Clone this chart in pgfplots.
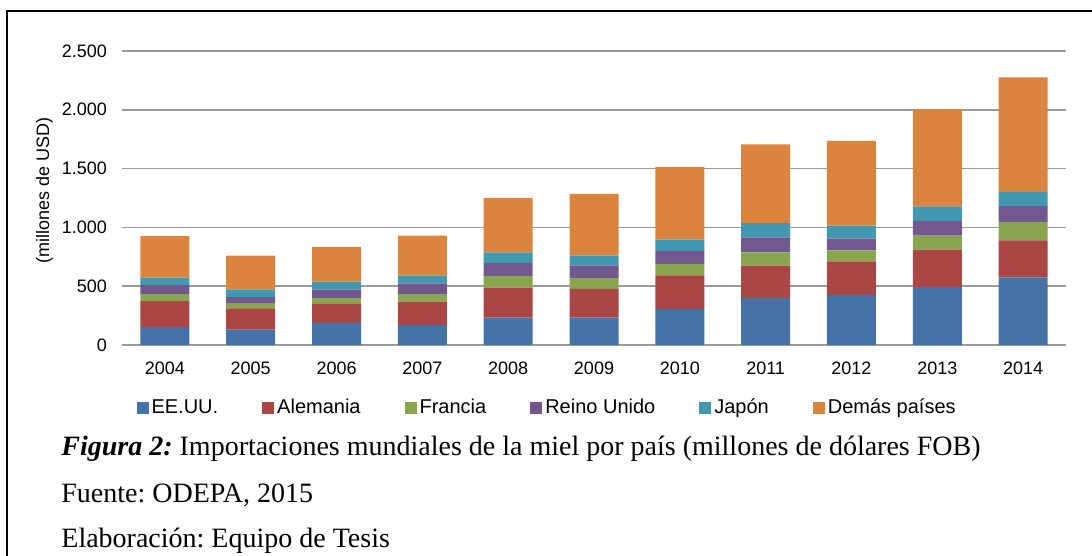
\documentclass[border=0pt]{standalone}
\usepackage{fontspec}
\setmainfont{Liberation Serif}
\newfontfamily\arial{Liberation Sans}
\usepackage{pgfplots}
\usepackage{pgfplotstable}
\pgfplotsset{compat=1.18}
\frenchspacing

\definecolor{cUS}{HTML}{4572A7}
\definecolor{cDE}{HTML}{AA4643}
\definecolor{cFR}{HTML}{89A54E}
\definecolor{cUK}{HTML}{71588F}
\definecolor{cJP}{HTML}{4198AF}
\definecolor{cRest}{HTML}{DB843D}

% importaciones por pais, millones USD (2004 = 0)
\pgfplotstableread{
x  us  de  fr  uk  jp  rest
0  151 221 61  76  64  352
1  131 180 44  52  67  286
2  189 160 49  73  67  297
3  172 197 64  90  67  340
4  233 255 99  111 90  462
5  233 245 91  108 83  526
6  304 288 96  112 96  618
7  398 276 114 128 120 671
8  427 284 94  100 111 719
9  492 319 119 123 125 828
10 575 315 157 134 122 973
}\datos

\begin{document}
\begin{tikzpicture}
\useasboundingbox (0pt,0pt) rectangle (546pt,278pt);
\draw[line width=1.3pt] (3.5pt,0pt) -- (3.5pt,272.5pt) -- (546pt,272.5pt);

\begin{axis}[
    at={(61pt,105.5pt)}, anchor=south west,
    scale only axis,
    width=472pt, height=147pt,
    ybar stacked,
    bar width=24.5pt,
    xmin=-0.5, xmax=10.5,
    ymin=0, ymax=2500,
    enlargelimits=false,
    xtick={0,...,10},
    xticklabels={2004,2005,2006,2007,2008,2009,2010,2011,2012,2013,2014},
    ytick={0,500,1000,1500,2000,2500},
    yticklabels={0,500,1.000,1.500,2.000,2.500},
    major tick length=0pt,
    axis line style={draw=none},
    ymajorgrids=true,
    grid style={draw=black!40, line width=0.8pt},
    tick label style={font=\arial\fontsize{9}{10}\selectfont},
    xticklabel style={yshift=-5pt},
    yticklabel style={xshift=-4pt},
    ylabel={(millones de USD)},
    ylabel style={at={(axis description cs:-0.082,0.527)}, anchor=center,
                  font=\arial\fontsize{9}{10}\selectfont},
    legend columns=-1,
    legend image code/.code={\fill[#1] (0pt,-3pt) rectangle (6pt,3pt);},
    legend style={at={(axis description cs:0.015,-0.214)}, anchor=west,
                  draw=none, fill=none, inner sep=0pt,
                  font=\arial\fontsize{10}{12}\selectfont,
                  nodes={inner sep=0pt},
                  /tikz/every odd column/.append style={column sep=1.5pt},
                  /tikz/every even column/.append style={column sep=22pt}},
]
\addplot[fill=cUS, draw=none] table[x=x, y=us] {\datos};
\addplot[fill=cDE, draw=none] table[x=x, y=de] {\datos};
\addplot[fill=cFR, draw=none] table[x=x, y=fr] {\datos};
\addplot[fill=cUK, draw=none] table[x=x, y=uk] {\datos};
\addplot[fill=cJP, draw=none] table[x=x, y=jp] {\datos};
\addplot[fill=cRest, draw=none] table[x=x, y=rest] {\datos};
\legend{EE.UU., Alemania, Francia, Reino Unido, Japón, Demás países}
\end{axis}

\begin{scope}[every node/.style={anchor=base west, inner sep=0pt,
              font=\fontsize{14}{16}\selectfont}]
\node at (30.5pt,50pt)
  {\textbf{\textit{Figura 2:}} Importaciones mundiales de la miel por país (millones de dólares FOB)};
\node at (30.5pt,26.5pt) {Fuente: ODEPA, 2015};
\node at (30.5pt,4pt) {Elaboración: Equipo de Tesis};
\end{scope}
\end{tikzpicture}
\end{document}
